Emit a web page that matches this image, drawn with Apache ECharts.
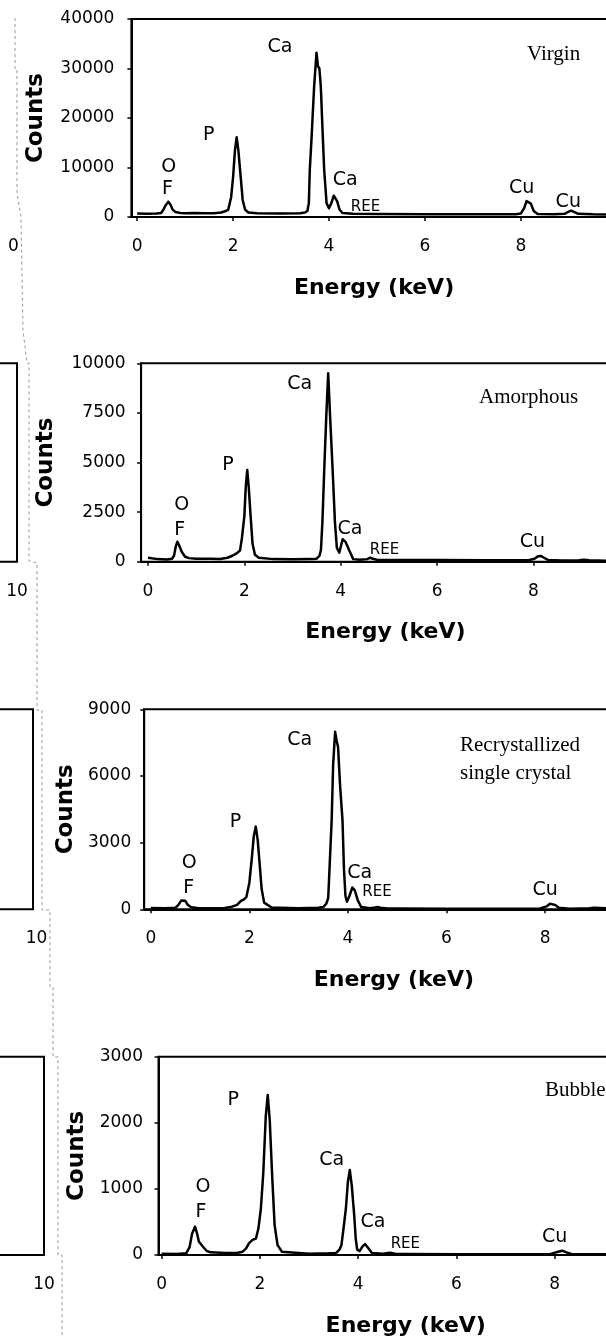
<!DOCTYPE html>
<html>
<head>
<meta charset="utf-8">
<script src="https://cdn.jsdelivr.net/npm/echarts@6.0.0/dist/echarts.min.js"></script>
<style>
  html, body { margin: 0; padding: 0; background: #fff; }
  #chart { width: 606px; height: 1338px; }
</style>
</head>
<body>
<div id="chart"></div>
<script>
// EDS spectra, [energy keV, counts]
const virginSpectrum = [
  [0.0, 700], [0.2, 650], [0.4, 700], [0.5, 800], [0.55, 1500], [0.59, 2300], [0.65, 3100], [0.7, 2400],
  [0.74, 1500], [0.8, 1000], [0.9, 800], [1.0, 750], [1.2, 800], [1.4, 750], [1.6, 750], [1.75, 900],
  [1.85, 1200], [1.9, 1500], [1.96, 4000], [2.0, 8000], [2.04, 13500], [2.075, 16100], [2.11, 13500],
  [2.16, 8000], [2.2, 3500], [2.25, 1500], [2.32, 900], [2.5, 750], [3.0, 700], [3.4, 750], [3.5, 900],
  [3.55, 1200], [3.58, 2800], [3.6, 9500], [3.64, 16600], [3.69, 26300], [3.74, 33200], [3.77, 30500],
  [3.8, 30000], [3.83, 26300], [3.87, 16600], [3.9, 9500], [3.95, 2800], [4.0, 1750], [4.05, 2800],
  [4.1, 4300], [4.13, 4400], [4.17, 3200], [4.22, 1500], [4.28, 800], [4.5, 650], [5.0, 600], [6.0, 550],
  [7.0, 550], [7.9, 550], [8.0, 700], [8.07, 1800], [8.12, 3200], [8.16, 3550], [8.21, 2700], [8.27, 1200],
  [8.35, 600], [8.7, 550], [8.92, 650], [8.98, 1000], [9.05, 1300], [9.12, 1000], [9.2, 650], [9.5, 550],
  [10.0, 500]
];
const amorphousSpectrum = [
  [0.0, 200], [0.2, 130], [0.4, 110], [0.5, 150], [0.54, 300], [0.58, 800], [0.61, 1010], [0.65, 800],
  [0.7, 500], [0.77, 250], [0.85, 180], [1.0, 150], [1.3, 150], [1.5, 140], [1.65, 200], [1.75, 300],
  [1.84, 420], [1.91, 560], [1.95, 1200], [2.0, 2300], [2.03, 3800], [2.06, 4620], [2.09, 3800],
  [2.13, 2300], [2.17, 900], [2.22, 350], [2.3, 200], [2.6, 130], [3.0, 120], [3.4, 130], [3.5, 150],
  [3.56, 300], [3.59, 600], [3.62, 2000], [3.66, 4750], [3.7, 7300], [3.74, 9495], [3.78, 7300],
  [3.83, 4750], [3.88, 2000], [3.92, 700], [3.97, 450], [4.0, 550], [4.04, 1130], [4.1, 1000],
  [4.18, 550], [4.26, 130], [4.4, 100], [4.55, 130], [4.61, 200], [4.67, 150], [4.75, 100], [5.0, 90],
  [6.0, 80], [7.0, 70], [7.9, 70], [8.02, 150], [8.1, 280], [8.15, 290], [8.22, 200], [8.3, 90],
  [8.6, 60], [8.95, 70], [9.05, 100], [9.15, 70], [9.5, 50], [10.0, 50]
];
const recrystSpectrum = [
  [0.0, 60], [0.3, 50], [0.5, 70], [0.56, 200], [0.62, 400], [0.66, 460], [0.7, 380], [0.75, 200],
  [0.82, 90], [0.95, 60], [1.2, 50], [1.5, 60], [1.65, 120], [1.75, 200], [1.83, 380], [1.88, 430],
  [1.94, 550], [2.0, 1200], [2.05, 2300], [2.09, 3300], [2.13, 3720], [2.17, 3100], [2.21, 2000],
  [2.25, 900], [2.3, 300], [2.45, 80], [3.0, 50], [3.4, 70], [3.5, 100], [3.56, 250], [3.6, 500],
  [3.63, 2000], [3.67, 4000], [3.7, 6500], [3.74, 7990], [3.77, 7600], [3.8, 7300], [3.84, 5600],
  [3.89, 4000], [3.92, 1800], [3.95, 600], [3.98, 340], [4.03, 600], [4.09, 980], [4.14, 850],
  [4.2, 400], [4.27, 100], [4.45, 50], [4.55, 80], [4.6, 100], [4.66, 70], [4.8, 40], [5.0, 40],
  [6.0, 30], [7.0, 30], [7.9, 40], [8.03, 130], [8.1, 250], [8.14, 270], [8.2, 200], [8.28, 70],
  [8.5, 30], [8.9, 50], [9.0, 70], [9.1, 60], [9.3, 40], [10.0, 30]
];
const bubbleSpectrum = [
  [0.0, 20], [0.3, 15], [0.5, 25], [0.57, 120], [0.62, 320], [0.68, 428], [0.72, 330], [0.76, 200],
  [0.8, 170], [0.86, 110], [0.92, 60], [1.0, 40], [1.3, 30], [1.55, 35], [1.65, 50], [1.72, 100],
  [1.78, 180], [1.85, 230], [1.92, 250], [1.97, 400], [2.02, 700], [2.07, 1250], [2.12, 2100],
  [2.16, 2420], [2.2, 2050], [2.25, 1200], [2.3, 450], [2.36, 150], [2.45, 50], [3.0, 20], [3.4, 25],
  [3.55, 30], [3.62, 80], [3.66, 150], [3.71, 450], [3.75, 700], [3.79, 1100], [3.83, 1286], [3.87, 1050],
  [3.92, 600], [3.95, 250], [3.98, 80], [4.03, 60], [4.09, 130], [4.14, 166], [4.2, 110], [4.28, 30],
  [4.5, 20], [4.65, 35], [4.75, 20], [5.0, 15], [6.0, 10], [7.0, 10], [7.9, 12], [8.05, 45], [8.15, 65],
  [8.24, 40], [8.35, 12], [9.0, 10], [10.0, 10]
];

// peak annotations, [energy keV, counts, element]
const virginPeaks = [
  [2.98, 34400, 'Ca'], [1.49, 16560, 'P'], [0.66, 10160, 'O'], [0.63, 5600, 'F'],
  [4.34, 7470, 'Ca'], [4.76, 1960, 'REE'], [8.02, 5800, 'Cu'], [8.99, 3090, 'Cu']
];
const amorphousPeaks = [
  [3.15, 8956, 'Ca'], [1.66, 4874, 'P'], [0.70, 2858, 'O'], [0.66, 1598, 'F'],
  [4.19, 1633, 'Ca'], [4.91, 590, 'REE'], [7.98, 1008, 'Cu']
];
const recrystPeaks = [
  [3.02, 7619, 'Ca'], [1.72, 3915, 'P'], [0.78, 2070, 'O'], [0.77, 972, 'F'],
  [4.24, 1620, 'Ca'], [4.59, 792, 'REE'], [8.0, 869, 'Cu']
];
const bubblePeaks = [
  [1.46, 2345, 'P'], [3.46, 1437, 'Ca'], [0.84, 1024, 'O'], [0.80, 655, 'F'],
  [4.30, 495, 'Ca'], [4.96, 162, 'REE'], [8.0, 268, 'Cu']
];

const sampleNames = ['Virgin', 'Amorphous', 'Recrystallized\nsingle crystal', 'Bubble'];
const countsMax = [40000, 10000, 9000, 3000];
const countsStep = [10000, 2500, 3000, 1000];
const energyTicks = [0, 2, 4, 6, 8, 10];
const strayTickLabels = ['0', '10', '10', '10'];

// pixel layout of the four panels
const layout = [
  { left: 131.4, top: 19, width: 485.3, height: 198, xMin: -0.12, yLabelGap: 17, countsGap: 84, titleLeft: 527, titleTop: 40 },
  { left: 141.1, top: 363.3, width: 488.7, height: 198.4, xMin: -0.143, yLabelGap: 15.5, countsGap: 84, titleLeft: 479, titleTop: 383 },
  { left: 144.2, top: 709.3, width: 499.4, height: 200, xMin: -0.134, yLabelGap: 13, countsGap: 67, titleLeft: 460, titleTop: 731 },
  { left: 158.5, top: 1056.7, width: 494.5, height: 198.3, xMin: -0.063, yLabelGap: 15.5, countsGap: 70, titleLeft: 545, titleTop: 1076 }
];
// right edges of the cut-off neighbouring frames at the left margin
const strayEdges = [13.5, 17, 33, 44];

const spectra = [virginSpectrum, amorphousSpectrum, recrystSpectrum, bubbleSpectrum];
const peaks = [virginPeaks, amorphousPeaks, recrystPeaks, bubblePeaks];

const ink = '#000';
const sans = 'DejaVu Sans';

const chart = echarts.init(document.getElementById('chart'));

const grids = [];
const xAxes = [];
const yAxes = [];
const series = [];
const titles = [];

layout.forEach((p, i) => {
  grids.push({
    left: p.left, top: p.top, width: p.width, height: p.height,
    show: true, borderColor: ink, borderWidth: 2,
    containLabel: false, outerBoundsMode: 'none'
  });
  xAxes.push({
    gridIndex: i, type: 'value', min: p.xMin, max: 10,
    axisLine: { show: true, onZero: false, lineStyle: { color: ink, width: 2 } },
    axisTick: { show: true, customValues: energyTicks, length: 4, lineStyle: { color: ink, width: 1.5 } },
    axisLabel: { customValues: energyTicks, margin: 21, fontSize: 17, fontFamily: sans, color: ink },
    splitLine: { show: false },
    name: 'Energy (keV)', nameLocation: 'middle', nameGap: 60,
    nameTextStyle: { fontSize: 22, fontWeight: 'bold', fontFamily: sans, color: ink }
  });
  yAxes.push({
    gridIndex: i, type: 'value', min: 0, max: countsMax[i], interval: countsStep[i],
    axisLine: { show: true, onZero: false, lineStyle: { color: ink, width: 2 } },
    axisTick: { show: true, length: 4, lineStyle: { color: ink, width: 1.5 } },
    axisLabel: { margin: p.yLabelGap, fontSize: 17, fontFamily: sans, color: ink, formatter: v => String(v) },
    splitLine: { show: false },
    name: 'Counts', nameLocation: 'middle', nameRotate: 90, nameGap: p.countsGap,
    nameTextStyle: { fontSize: 23, fontWeight: 'bold', fontFamily: sans, color: ink }
  });
  series.push({
    type: 'line', xAxisIndex: i, yAxisIndex: i, data: spectra[i],
    symbol: 'none', smooth: false,
    lineStyle: { color: '#000', width: 2.5, join: 'round' }, silent: true, z: 3
  });
  series.push({
    type: 'scatter', xAxisIndex: i, yAxisIndex: i, silent: true, z: 5,
    symbolSize: 1, itemStyle: { color: 'rgba(0,0,0,0)' },
    data: peaks[i].map(([x, y, t]) => ({
      value: [x, y], name: t,
      label: t === 'REE' ? { fontSize: 15 } : undefined
    })),
    label: {
      show: true, position: 'inside', formatter: d => d.name,
      fontSize: 19, fontFamily: sans, color: ink, textBorderWidth: 0, opacity: 1
    }
  });
  titles.push({
    text: sampleNames[i], left: p.titleLeft, top: p.titleTop, padding: 0,
    textStyle: { fontFamily: 'Liberation Serif', fontSize: 21, fontWeight: 'normal', color: ink, lineHeight: 28 }
  });
});

// remnants of the neighbouring figure cut at the left edge
layout.forEach((p, i) => {
  const g = grids.length;
  grids.push({
    left: strayEdges[i] - 200, top: p.top, width: 200, height: p.height,
    show: i > 0, borderColor: ink, borderWidth: 2, outerBoundsMode: 'none'
  });
  xAxes.push({
    gridIndex: g, type: 'value', min: 0, max: 10,
    axisLine: { show: false }, axisTick: { show: false }, splitLine: { show: false },
    axisLabel: {
      customValues: [10], formatter: () => strayTickLabels[i], margin: 21,
      fontSize: 17, fontFamily: sans, color: ink, padding: [0, 0, 0, i === 2 ? 7 : 0]
    }
  });
  yAxes.push({ gridIndex: g, type: 'value', min: 0, max: 1, show: false });
});

chart.setOption({
  backgroundColor: '#fff',
  animation: false,
  title: titles,
  grid: grids,
  xAxis: xAxes,
  yAxis: yAxes,
  series: series,
  graphic: [{
    type: 'polyline', silent: true,
    shape: { points: [[15, 18], [15, 70], [17, 70], [17, 193], [21, 217], [23, 330], [27, 363], [29, 363],
      [29, 561], [37, 563], [37, 710], [42, 710], [42, 910], [50, 910], [50, 987], [53, 987], [53, 1057],
      [58, 1057], [58, 1255], [62, 1255], [62, 1338]] },
    style: { stroke: '#999', lineWidth: 1, lineDash: [3, 3], fill: null }
  }]
});
</script>
</body>
</html>
